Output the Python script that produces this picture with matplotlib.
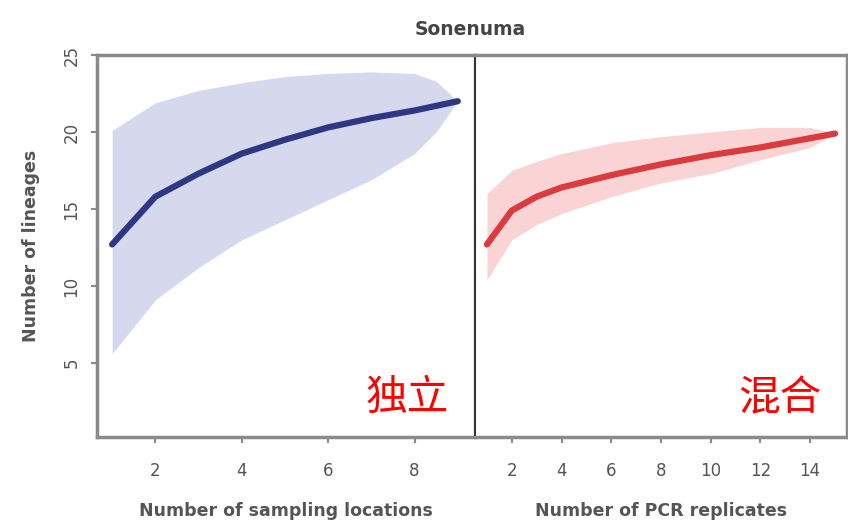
import matplotlib.pyplot as plt
import numpy as np

# Left panel: sampling locations (independent)
loc_x = [1, 2, 3, 4, 5, 6, 7, 8, 8.5, 9]
loc_mean = [12.7, 15.8, 17.3, 18.6, 19.5, 20.3, 20.9, 21.4, 21.7, 22.0]
loc_upper = [20.1, 21.9, 22.7, 23.2, 23.6, 23.8, 23.9, 23.8, 23.3, 22.0]
loc_lower = [5.6, 9.1, 11.2, 13.0, 14.3, 15.6, 16.9, 18.6, 20.0, 22.0]

# Right panel: PCR replicates (pooled)
pcr_x = [1, 2, 3, 4, 6, 8, 10, 12, 14, 15]
pcr_mean = [12.7, 14.9, 15.8, 16.4, 17.2, 17.9, 18.5, 19.0, 19.6, 19.9]
pcr_upper = [16.0, 17.5, 18.1, 18.6, 19.3, 19.7, 20.0, 20.3, 20.3, 19.9]
pcr_lower = [10.4, 13.0, 14.0, 14.7, 15.8, 16.7, 17.3, 18.2, 19.0, 19.9]

y_ticks = [5, 10, 15, 20, 25]
loc_ticks = [2, 4, 6, 8]
pcr_ticks = [2, 4, 6, 8, 10, 12, 14]

plt.rcParams['font.family'] = ['DejaVu Sans', 'Noto Sans CJK SC']

fig = plt.figure(figsize=(8.48, 5.29), dpi=100)
ax1 = fig.add_axes([0.1144, 0.174, 0.4458, 0.722])
ax2 = fig.add_axes([0.5601, 0.174, 0.4387, 0.722])

gray = '#8a8a8a'
txt = '#555555'

ax1.fill_between(loc_x, loc_lower, loc_upper, color='#d6d9ee', lw=0)
ax1.plot(loc_x, loc_mean, color='#2e3882', lw=4.5, solid_capstyle='round')
ax1.set_xlim(0.65, 9.4)
ax1.set_xticks(loc_ticks)
ax1.set_xlabel('Number of sampling locations', fontsize=12.5, fontweight='bold', color=txt, labelpad=16)
ax1.set_ylabel('Number of lineages', fontsize=12.5, fontweight='bold', color=txt, labelpad=16)
ax1.set_yticks(y_ticks)
ax1.tick_params(axis='y', labelrotation=90, pad=8)
for lab in ax1.get_yticklabels():
    lab.set_verticalalignment('center')
ax1.text(0.93, 0.1, '独立', transform=ax1.transAxes, color='red', fontsize=30,
         ha='right', va='center', family=['Noto Sans CJK SC'])

ax2.fill_between(pcr_x, pcr_lower, pcr_upper, color='#fad4d4', lw=0)
ax2.plot(pcr_x, pcr_mean, color='#da3b3f', lw=4.5, solid_capstyle='round')
ax2.set_xlim(0.52, 15.48)
ax2.set_xticks(pcr_ticks)
ax2.set_yticks([])
ax2.set_xlabel('Number of PCR replicates', fontsize=12.5, fontweight='bold', color=txt, labelpad=16)
ax2.text(0.93, 0.1, '混合', transform=ax2.transAxes, color='red', fontsize=30,
         ha='right', va='center', family=['Noto Sans CJK SC'])

for ax in (ax1, ax2):
    ax.set_ylim(0.2, 25)
    for s in ax.spines.values():
        s.set_color(gray)
        s.set_linewidth(2.5)
    ax.tick_params(colors=gray, labelcolor=txt, labelsize=12, length=4, width=1.5)
    ax.tick_params(axis='x', pad=14)

ax1.spines['right'].set_color('#333333')
ax1.spines['right'].set_linewidth(1.5)
ax2.spines['left'].set_color('#333333')
ax2.spines['left'].set_linewidth(1.5)

fig.text(0.555, 0.945, 'Sonenuma', ha='center', va='center', fontsize=13.5,
         fontweight='bold', color='#444444')

fig.savefig('out.png', dpi=100)
